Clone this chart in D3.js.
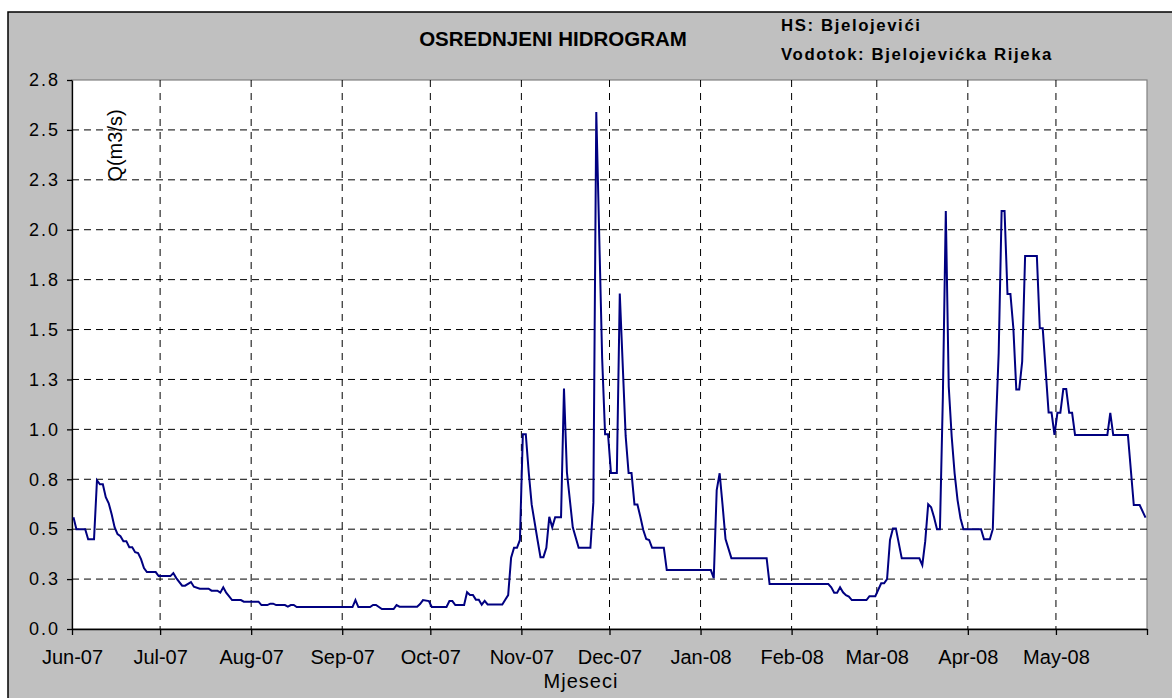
<!DOCTYPE html>
<html>
<head>
<meta charset="utf-8">
<script src="https://cdnjs.cloudflare.com/ajax/libs/d3/7.8.5/d3.min.js"></script>
<style>
body { margin: 0; background: #fff; }
text { font-family: "Liberation Sans", Arial, sans-serif; }
</style>
</head>
<body>
<svg id="chart"></svg>
<script>
// daily mean flow, only the days where the line changes direction
var dates = [
  "2007-06-01","2007-06-02","2007-06-05","2007-06-06","2007-06-08","2007-06-09","2007-06-10","2007-06-11",
  "2007-06-12","2007-06-13","2007-06-14","2007-06-15","2007-06-16","2007-06-17","2007-06-18","2007-06-19",
  "2007-06-20","2007-06-21","2007-06-22","2007-06-23","2007-06-24","2007-06-25","2007-06-26","2007-06-29",
  "2007-06-30","2007-07-04","2007-07-05","2007-07-06","2007-07-08","2007-07-09","2007-07-11","2007-07-12",
  "2007-07-14","2007-07-17","2007-07-18","2007-07-20","2007-07-21","2007-07-22","2007-07-23","2007-07-25",
  "2007-07-28","2007-07-29","2007-08-03","2007-08-04","2007-08-06","2007-08-07","2007-08-08","2007-08-09",
  "2007-08-12","2007-08-13","2007-08-14","2007-08-15","2007-08-16","2007-09-04","2007-09-05","2007-09-06",
  "2007-09-10","2007-09-11","2007-09-12","2007-09-14","2007-09-18","2007-09-19","2007-09-20","2007-09-26",
  "2007-09-27","2007-09-28","2007-09-30","2007-10-01","2007-10-06","2007-10-07","2007-10-08","2007-10-09",
  "2007-10-12","2007-10-13","2007-10-14","2007-10-15","2007-10-16","2007-10-17","2007-10-18","2007-10-19",
  "2007-10-20","2007-10-25","2007-10-26","2007-10-27","2007-10-28","2007-10-29","2007-10-30","2007-10-31",
  "2007-11-01","2007-11-02","2007-11-03","2007-11-04","2007-11-06","2007-11-07","2007-11-08","2007-11-09",
  "2007-11-10","2007-11-11","2007-11-12","2007-11-14","2007-11-15","2007-11-16","2007-11-18","2007-11-20",
  "2007-11-24","2007-11-25","2007-11-26","2007-11-28","2007-11-29","2007-11-30","2007-12-01","2007-12-03",
  "2007-12-04","2007-12-06","2007-12-07","2007-12-08","2007-12-09","2007-12-10","2007-12-11","2007-12-12",
  "2007-12-13","2007-12-14","2007-12-15","2007-12-19","2007-12-20","2008-01-04","2008-01-05","2008-01-06",
  "2008-01-07","2008-01-08","2008-01-09","2008-01-11","2008-01-23","2008-01-24","2008-02-13","2008-02-14",
  "2008-02-15","2008-02-16","2008-02-17","2008-02-18","2008-02-19","2008-02-20","2008-02-21","2008-02-26",
  "2008-02-27","2008-02-29","2008-03-02","2008-03-03","2008-03-04","2008-03-05","2008-03-06","2008-03-07",
  "2008-03-09","2008-03-15","2008-03-16","2008-03-17","2008-03-18","2008-03-19","2008-03-20","2008-03-21",
  "2008-03-22","2008-03-23","2008-03-24","2008-03-25","2008-03-26","2008-03-27","2008-03-28","2008-03-29",
  "2008-03-30","2008-04-05","2008-04-06","2008-04-08","2008-04-09","2008-04-10","2008-04-11","2008-04-12",
  "2008-04-13","2008-04-14","2008-04-15","2008-04-16","2008-04-17","2008-04-18","2008-04-19","2008-04-20",
  "2008-04-24","2008-04-25","2008-04-26","2008-04-28","2008-04-29","2008-04-30","2008-05-01","2008-05-02",
  "2008-05-03","2008-05-04","2008-05-05","2008-05-06","2008-05-07","2008-05-18","2008-05-19","2008-05-20",
  "2008-05-25","2008-05-27","2008-05-29","2008-05-31"
];
var flows = [
  0.56, 0.50, 0.50, 0.45, 0.45, 0.745, 0.725, 0.725,
  0.66, 0.63, 0.575, 0.51, 0.475, 0.465, 0.44, 0.44,
  0.41, 0.41, 0.385, 0.38, 0.35, 0.305, 0.285, 0.285,
  0.265, 0.265, 0.28, 0.255, 0.217, 0.217, 0.235, 0.212,
  0.202, 0.202, 0.192, 0.192, 0.182, 0.209, 0.182, 0.145,
  0.145, 0.137, 0.137, 0.12, 0.12, 0.127, 0.127, 0.12,
  0.12, 0.112, 0.12, 0.12, 0.11, 0.11, 0.145, 0.11,
  0.11, 0.12, 0.12, 0.10, 0.10, 0.12, 0.112, 0.112,
  0.125, 0.145, 0.14, 0.11, 0.11, 0.14, 0.14, 0.12,
  0.12, 0.184, 0.17, 0.17, 0.147, 0.147, 0.122, 0.141,
  0.123, 0.123, 0.147, 0.17, 0.357, 0.407, 0.407, 0.446,
  0.976, 0.976, 0.785, 0.624, 0.446, 0.36, 0.36, 0.407,
  0.562, 0.509, 0.56, 0.56, 1.204, 0.785, 0.509, 0.407,
  0.407, 0.633, 2.59, 1.355, 0.976, 0.976, 0.781, 0.781,
  1.68, 0.967, 0.781, 0.781, 0.624, 0.624, 0.562, 0.496,
  0.451, 0.446, 0.407, 0.407, 0.295, 0.295, 0.255, 0.696,
  0.78, 0.62, 0.45, 0.355, 0.355, 0.225, 0.225, 0.209,
  0.182, 0.182, 0.209, 0.184, 0.169, 0.162, 0.145, 0.145,
  0.164, 0.164, 0.229, 0.229, 0.25, 0.446, 0.504, 0.504,
  0.354, 0.354, 0.32, 0.44, 0.625, 0.61, 0.56, 0.50,
  0.50, 1.164, 2.094, 1.214, 0.964, 0.78, 0.646, 0.555,
  0.50, 0.50, 0.449, 0.449, 0.50, 0.997, 1.381, 2.094,
  2.094, 1.678, 1.678, 1.506, 1.20, 1.20, 1.339, 1.869,
  1.869, 1.506, 1.506, 1.084, 1.084, 0.972, 1.083, 1.083,
  1.202, 1.202, 1.083, 1.083, 0.972, 0.972, 1.083, 0.972,
  0.972, 0.621, 0.621, 0.558
];

var yTicks = [0, 0.25, 0.5, 0.75, 1, 1.25, 1.5, 1.75, 2, 2.25, 2.5, 2.75];
var monthTicks = ["2007-06-01","2007-07-01","2007-08-01","2007-09-01","2007-10-01","2007-11-01",
                  "2007-12-01","2008-01-01","2008-02-01","2008-03-01","2008-04-01","2008-05-01","2008-06-01"];

var chartTitle = "OSREDNJENI HIDROGRAM";
var stationLines = ["HS: Bjelojevići", "Vodotok: Bjelojevićka Rijeka"];
var yTitle = "Q(m3/s)";
var xTitle = "Mjeseci";

var margin = {top: 80, right: 25, bottom: 69, left: 72};
var width = 1172, height = 698;
var plotW = width - margin.left - margin.right;
var plotH = height - margin.top - margin.bottom;

var parse = d3.timeParse("%Y-%m-%d");
var data = dates.map(function(d, i) { return {date: parse(d), q: flows[i]}; });
var months = monthTicks.map(parse);

var svg = d3.select("#chart")
    .attr("width", width)
    .attr("height", height);

// grey chart area
svg.append("rect")
    .attr("x", 8).attr("y", 12)
    .attr("width", width + 20).attr("height", height + 20)
    .attr("fill", "#c0c0c0")
    .attr("stroke", "#000")
    .attr("stroke-width", 1.5);

var g = svg.append("g")
    .attr("transform", "translate(" + margin.left + "," + margin.top + ")");

var x = d3.scaleTime()
    .domain([months[0], months[months.length - 1]])
    .range([0, plotW]);
var y = d3.scaleLinear()
    .domain([0, 2.75])
    .range([plotH, 0]);

g.append("rect")
    .attr("width", plotW).attr("height", plotH)
    .attr("fill", "#fff")
    .attr("stroke", "#808080")
    .attr("stroke-width", 1.2);

// dashed grid
g.selectAll(".hgrid")
    .data(yTicks.slice(1, -1))
    .enter().append("line")
    .attr("class", "hgrid")
    .attr("x1", 0).attr("x2", plotW)
    .attr("y1", function(d) { return y(d); })
    .attr("y2", function(d) { return y(d); })
    .attr("stroke", "#000")
    .attr("stroke-dasharray", "7,5");

g.selectAll(".vgrid")
    .data(months.slice(1, -1))
    .enter().append("line")
    .attr("class", "vgrid")
    .attr("y1", 0).attr("y2", plotH)
    .attr("x1", function(d) { return x(d); })
    .attr("x2", function(d) { return x(d); })
    .attr("stroke", "#000")
    .attr("stroke-dasharray", "7,6");

// axes
var yAxis = g.append("g")
    .call(d3.axisLeft(y)
        .tickValues(yTicks)
        .tickFormat(d3.format(".1f"))
        .tickSize(5)
        .tickSizeOuter(0)
        .tickPadding(7));

var last = months[months.length - 1];
var xAxis = g.append("g")
    .attr("transform", "translate(0," + plotH + ")")
    .call(d3.axisBottom(x)
        .tickValues(months)
        .tickFormat(function(d) { return +d === +last ? "" : d3.timeFormat("%b-%y")(d); })
        .tickSize(6)
        .tickSizeOuter(0)
        .tickPadding(15));

yAxis.selectAll("path, line").attr("stroke", "#000").attr("stroke-width", 1.3);
xAxis.selectAll("path, line").attr("stroke", "#000").attr("stroke-width", 1.3);
yAxis.selectAll("text")
    .attr("font-family", "Liberation Sans, Arial, sans-serif")
    .attr("font-size", 18)
    .attr("letter-spacing", 2)
    .attr("fill", "#000");
xAxis.selectAll("text")
    .attr("font-family", "Liberation Sans, Arial, sans-serif")
    .attr("font-size", 20)
    .attr("fill", "#000");

// flow line, daily values sit in the middle of their day
var line = d3.line()
    .x(function(d) { return x(d3.timeHour.offset(d.date, 12)); })
    .y(function(d) { return y(d.q); });

g.append("path")
    .datum(data)
    .attr("fill", "none")
    .attr("stroke", "#000080")
    .attr("stroke-width", 2)
    .attr("d", line);

// texts
svg.append("text")
    .attr("x", 553).attr("y", 46)
    .attr("text-anchor", "middle")
    .attr("font-size", 20.5)
    .attr("font-weight", "bold")
    .text(chartTitle);

svg.selectAll(".station")
    .data(stationLines)
    .enter().append("text")
    .attr("class", "station")
    .attr("x", 781)
    .attr("y", function(d, i) { return 31 + i * 29; })
    .attr("font-size", 16.8)
    .attr("font-weight", "bold")
    .attr("letter-spacing", 1.6)
    .text(function(d) { return d; });

g.append("text")
    .attr("transform", "translate(50,65.5) rotate(-90)")
    .attr("text-anchor", "middle")
    .attr("font-size", 20)
    .text(yTitle);

svg.append("text")
    .attr("x", 581).attr("y", 688)
    .attr("text-anchor", "middle")
    .attr("font-size", 20)
    .attr("letter-spacing", 1)
    .text(xTitle);
</script>
</body>
</html>
